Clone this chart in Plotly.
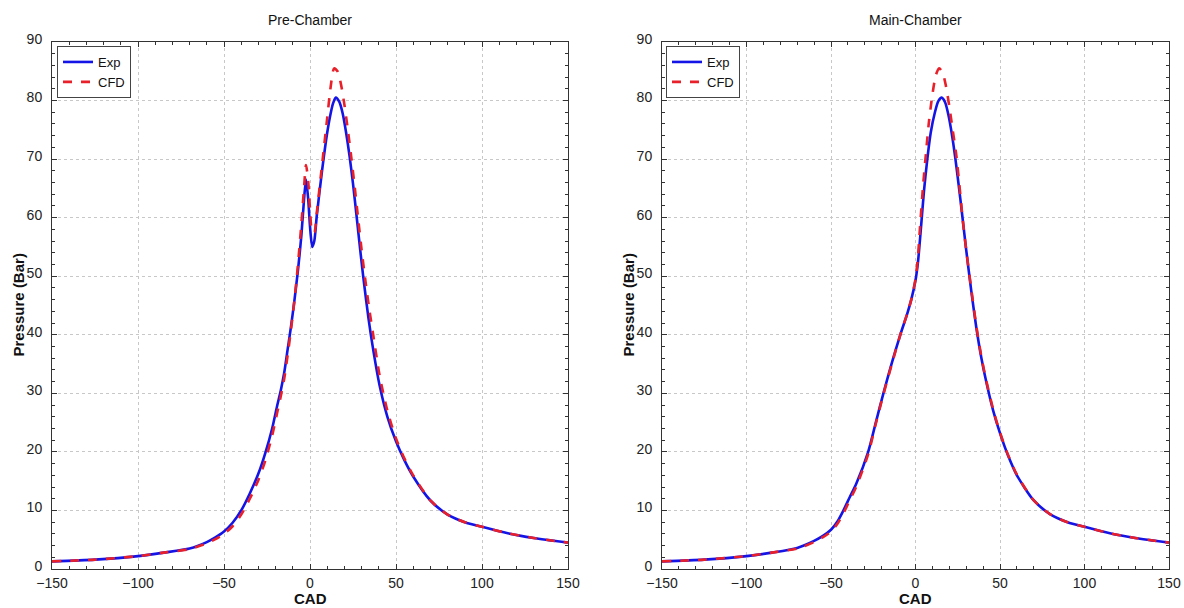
import plotly.graph_objects as go

# Pre-chamber pressure traces (CAD vs bar)
pre_exp_cad = [-150, -125, -100, -85, -70, -60, -55, -50, -45, -40, -35, -30, -26, -22, -19, -17, -15, -13,
               -11, -9, -7, -5, -3.5, -2.3, -1, 0, 1.3, 2.5, 4, 7, 10, 12, 13.5, 15, 17, 19, 21, 23, 25,
               27, 29, 31, 34, 37, 40.5, 45, 50, 55, 60, 70, 80, 90, 100, 115, 130, 150]
pre_exp_p = [1.3, 1.6, 2.2, 2.8, 3.5, 4.6, 5.4, 6.4, 7.9, 10.0, 12.9, 16.3, 19.8, 24.0, 28.0, 30.5, 33.5, 37.5,
             41.5, 46.0, 51.0, 57.0, 63.0, 66.5, 63.0, 58.5, 55.0, 56.0, 60.5, 68.0, 74.5, 77.8, 79.6, 80.5,
             79.8, 77.8, 74.5, 70.5, 65.8, 60.5, 55.0, 49.8, 42.8, 37.0, 31.3, 26.0, 21.8, 18.5, 15.8, 11.7,
             9.3, 8.0, 7.2, 6.1, 5.3, 4.5]

pre_cfd_cad = [-150, -125, -100, -85, -70, -60, -55, -50, -45, -40, -35, -30, -26, -22, -19, -17, -15, -13,
               -11, -9, -7, -5, -3.5, -2.3, -1, 0, 1.3, 2.5, 4, 7, 10, 12, 14, 16, 18, 20, 22, 24, 26, 28,
               30, 32, 34.5, 37, 40.5, 45, 50, 55, 60, 70, 80, 90, 100, 115, 130, 150]
pre_cfd_p = [1.3, 1.6, 2.2, 2.8, 3.4, 4.4, 5.1, 6.0, 7.3, 9.3, 12.0, 15.2, 18.5, 22.8, 26.8, 29.5, 32.5, 36.5,
             41.0, 46.0, 52.0, 59.0, 65.0, 69.0, 66.0, 61.5, 57.5, 57.5, 61.0, 69.0, 77.0, 82.3, 85.5, 85.0,
             82.8, 79.3, 75.0, 70.3, 65.2, 59.8, 54.5, 49.7, 44.3, 39.5, 33.0, 27.0, 22.3, 18.8, 16.0, 11.7,
             9.3, 8.0, 7.2, 6.1, 5.3, 4.5]

# Main-chamber pressure traces
main_exp_cad = [-150, -125, -100, -85, -70, -60, -55, -50, -46, -43, -39, -35, -28, -23.5, -19, -14, -9, -5,
                -2.5, 0, 1.5, 3.3, 5, 6.8, 9, 11.5, 13.5, 15.5, 17.5, 19.5, 21.5, 23.5, 25.5, 27.5, 30, 33,
                36, 39, 42, 46, 50, 55, 60, 70, 80, 90, 100, 115, 130, 150]
main_exp_p = [1.3, 1.6, 2.2, 2.8, 3.6, 4.8, 5.6, 6.7, 8.2, 9.8, 12.2, 14.6, 20.0, 25.0, 30.0, 35.2, 40.0, 43.5,
              46.0, 49.3, 52.5, 58.5, 64.5, 69.5, 74.5, 78.0, 79.9, 80.5, 79.7, 77.5, 74.3, 70.3, 65.7, 60.8,
              54.5, 47.5, 41.2, 36.0, 31.8, 27.0, 23.2, 19.2, 16.0, 11.7, 9.3, 8.0, 7.2, 6.1, 5.3, 4.5]

main_cfd_cad = [-150, -125, -100, -85, -70, -60, -55, -50, -46, -43, -39, -35, -28, -23.5, -19, -14, -9, -5,
                -2.5, 0, 1.5, 2.7, 4.5, 6.2, 8, 10, 12, 14, 16, 18, 20, 22, 24, 26, 28, 30, 33, 36, 39,
                42, 46, 50, 55, 60, 70, 80, 90, 100, 115, 130, 150]
main_cfd_p = [1.3, 1.6, 2.2, 2.8, 3.5, 4.6, 5.4, 6.4, 7.8, 9.3, 11.7, 14.1, 19.6, 24.8, 29.8, 35.0, 40.0, 43.5,
              46.0, 49.5, 53.5, 58.5, 65.5, 71.0, 76.5, 81.0, 84.3, 85.5, 84.8, 82.5, 79.0, 75.0, 71.0, 65.5,
              59.5, 54.5, 47.8, 41.5, 36.2, 32.0, 27.2, 23.3, 19.3, 16.1, 11.7, 9.3, 8.0, 7.2, 6.1, 5.3, 4.5]

panel_titles = ["Pre-Chamber", "Main-Chamber"]
series_names = ["Exp", "CFD"]
x_ticks = [-150, -100, -50, 0, 50, 100, 150]
y_ticks = [0, 10, 20, 30, 40, 50, 60, 70, 80, 90]

FONT = "Liberation Sans, Arial, sans-serif"
BLUE = "#1414e6"
RED = "#e8202a"

fig = go.Figure()

panels = [
    (pre_exp_cad, pre_exp_p, pre_cfd_cad, pre_cfd_p, "x", "y", "legend"),
    (main_exp_cad, main_exp_p, main_cfd_cad, main_cfd_p, "x2", "y2", "legend2"),
]
for ecad, ep, ccad, cp, xa, ya, lg in panels:
    fig.add_trace(go.Scatter(x=ecad, y=ep, mode="lines", name=series_names[0], xaxis=xa, yaxis=ya,
                             legend=lg, line=dict(color=BLUE, width=2.6, shape="spline", smoothing=0.7)))
    fig.add_trace(go.Scatter(x=ccad, y=cp, mode="lines", name=series_names[1], xaxis=xa, yaxis=ya,
                             legend=lg, line=dict(color=RED, width=2.6, dash="dash", shape="spline",
                                                  smoothing=0.7)))

W, H = 1184, 608
y_dom = [1 - 569 / H, 1 - 42 / H]
x_doms = [[52 / W, 568 / W], [662 / W, 1169 / W]]

axis_common = dict(
    showline=True, linecolor="#333333", linewidth=1, mirror="allticks",
    ticks="inside", ticklen=5, tickcolor="#333333",
    showgrid=True, gridcolor="#c8c8c8", griddash="dot", gridwidth=1,
    zeroline=False, automargin=False,
    tickfont=dict(family=FONT, size=14, color="#222222"),
)

layout_axes = {}
for i, dom in enumerate(x_doms):
    sfx = "" if i == 0 else str(i + 1)
    layout_axes["xaxis" + sfx] = dict(
        axis_common, domain=dom, range=[-150, 150], tickvals=x_ticks, ticklabelstandoff=1,
        minor=dict(ticks="inside", dtick=10, ticklen=3, tickcolor="#333333", showgrid=False),
        anchor="y" + sfx,
    )
    layout_axes["yaxis" + sfx] = dict(
        axis_common, domain=y_dom, range=[0, 90], tickvals=y_ticks, ticklabelstandoff=6,
        ticklabelshift=-3,
        minor=dict(ticks="inside", dtick=2, ticklen=3, tickcolor="#333333", showgrid=False),
        anchor="x" + sfx,
    )

legend_style = dict(
    xanchor="left", yanchor="top", y=1 - 46 / H,
    bgcolor="white", bordercolor="#444444", borderwidth=1,
    font=dict(family=FONT, size=13, color="#111111"),
    itemwidth=30, tracegroupgap=0,
)

annotations = []
for i, dom in enumerate(x_doms):
    cx = (dom[0] + dom[1]) / 2
    annotations.append(dict(text=panel_titles[i], x=cx, y=1 - 20 / H, xref="paper", yref="paper",
                            xanchor="center", yanchor="middle", showarrow=False,
                            font=dict(family=FONT, size=14, color="#111111")))
    annotations.append(dict(text="<b>CAD</b>", x=cx, y=1 - 598 / H, xref="paper", yref="paper",
                            xanchor="center", yanchor="middle", showarrow=False,
                            font=dict(family=FONT, size=15, color="#111111")))
    annotations.append(dict(text="<b>Pressure (Bar)</b>", x=(dom[0] * W - 34) / W,
                            y=(y_dom[0] + y_dom[1]) / 2, xref="paper", yref="paper",
                            xanchor="center", yanchor="middle", textangle=-90, showarrow=False,
                            font=dict(family=FONT, size=15, color="#111111")))

fig.update_layout(
    width=W, height=H,
    margin=dict(l=0, r=0, t=0, b=0, autoexpand=False),
    paper_bgcolor="white", plot_bgcolor="white",
    font=dict(family=FONT),
    showlegend=True,
    legend=dict(legend_style, x=57 / W),
    legend2=dict(legend_style, x=666 / W),
    annotations=annotations,
    **layout_axes,
)

fig.write_html("out.html")
